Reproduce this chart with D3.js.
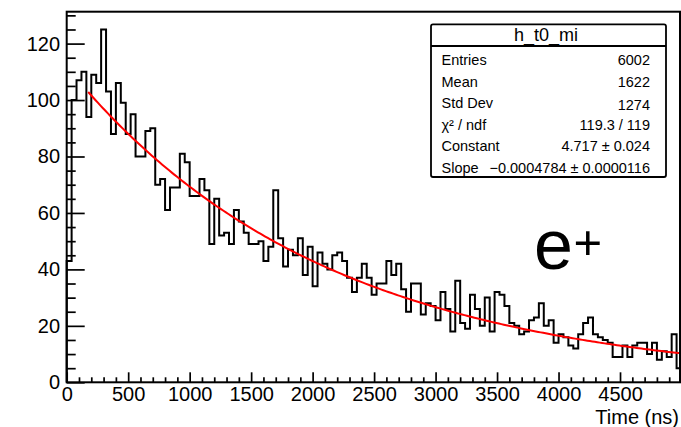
<!DOCTYPE html>
<html><head><meta charset="utf-8">
<script src="https://cdn.jsdelivr.net/npm/d3@7"></script>
<style>
body{margin:0;background:#fff}
svg{display:block}
text{font-family:"Liberation Sans",Arial,Helvetica,sans-serif}
</style>
</head><body>
<svg id="c" width="681" height="427"></svg>
<script>
// ---- data ----
const counts = [
 43,100,107,110, 94,109,106,125,103, 88,
106, 99, 88, 95, 80, 80, 89, 90, 70, 72,
 61, 69, 69, 81, 78, 66, 66, 72, 68, 49,
 65, 52, 53, 49, 61, 57, 53, 49, 49, 50,
 43, 48, 68, 51, 41, 47, 45, 51, 38, 48,
 34, 46, 42, 40, 45, 46, 43, 37, 32, 37,
 42, 37, 31, 35, 35, 43, 38, 42, 33, 25,
 35, 35, 24, 28, 27, 22, 32, 26, 18, 36,
 21, 19, 31, 26, 20, 30, 18, 32, 31, 27,
 21, 20, 17, 18, 22, 23, 28, 20, 22, 14,
 17, 16, 13, 12, 17, 21, 23, 17, 16, 15,
 14,  9,  9, 13,  9, 13, 14, 14, 10, 14,
  8, 11,  9, 17,  5
];
const histRange = [0, 5000];
const fitParams = [4.717, -0.0004784];   // Constant, Slope of expo fit
const fitRange = [175, 5000];
const xTicks = [0,500,1000,1500,2000,2500,3000,3500,4000,4500];
const yTicks = [0,20,40,60,80,100,120];
const statTitle = "h_t0_mi";
const statLabels = ["Entries","Mean","Std Dev","χ² / ndf","Constant","Slope"];
const statValues = ["6002","1622","1274","119.3 / 119","4.717 ± 0.024","−0.0004784 ± 0.0000116"];
const xTitle = "Time (ns)";

// ---- layout ----
const L = 66.7, R = 681.5, T = 11.7, B = 382.3;
const svg = d3.select("#c");
const x = d3.scaleLinear().domain(histRange).range([L, R]);
const y = d3.scaleLinear().domain([0, 131.3]).range([B, T]);

const nb = counts.length;
const bw = (histRange[1]-histRange[0]) / nb;

// minor ticks
const xMinor = d3.range(0, 5000, 100).filter(v => v % 500 !== 0);
const yMinor = d3.range(0, 131, 5).filter(v => v % 20 !== 0);

const gx = svg.append("g").attr("transform", `translate(0,${B})`);
gx.call(d3.axisBottom(x).tickValues(xTicks).tickSize(-10).tickPadding(5).tickFormat(d3.format("d")));
const gxm = svg.append("g").attr("transform", `translate(0,${B})`);
gxm.call(d3.axisBottom(x).tickValues(xMinor).tickSize(-5).tickFormat(""));

const gy = svg.append("g").attr("transform", `translate(${L},0)`);
gy.call(d3.axisLeft(y).tickValues(yTicks).tickSize(-18).tickPadding(6.7).tickFormat(d3.format("d")));
const gym = svg.append("g").attr("transform", `translate(${L},0)`);
gym.call(d3.axisLeft(y).tickValues(yMinor).tickSize(-9).tickFormat(""));

svg.selectAll(".domain").remove();
svg.selectAll(".tick line").attr("stroke", "#000").attr("stroke-width", 1.7);
svg.selectAll(".tick text").attr("font-size", 20).attr("fill", "#000")
   .attr("font-family", '"Liberation Sans",Arial,sans-serif');

// histogram outline
const p = d3.path();
p.moveTo(x(histRange[0]), y(0));
counts.forEach((c, i) => {
  const x0 = histRange[0] + i*bw, x1 = x0 + bw;
  p.lineTo(x(x0), y(c));
  p.lineTo(x(x1), y(c));
});
p.lineTo(x(histRange[1]), y(0));
svg.append("path").attr("d", p.toString()).attr("fill", "none")
   .attr("stroke", "#000").attr("stroke-width", 2).attr("stroke-linejoin", "miter");

// fit function
const fx = d3.range(fitRange[0], fitRange[1], 20).concat([fitRange[1]]);
const line = d3.line().x(d => x(d)).y(d => y(Math.exp(fitParams[0] + fitParams[1]*d)));
svg.append("path").attr("d", line(fx)).attr("fill", "none")
   .attr("stroke", "#ff0000").attr("stroke-width", 2);

// frame
svg.append("rect").attr("x", L).attr("y", T).attr("width", 680 - L).attr("height", B - T)
   .attr("fill", "none").attr("stroke", "#000").attr("stroke-width", 2);

// stats box
const bx0 = 431, bx1 = 666, by0 = 24.3, bsep = 46, by1 = 177;
svg.append("rect").attr("x", bx0).attr("y", by0).attr("width", bx1-bx0).attr("height", by1-by0)
   .attr("rx", 2).attr("fill", "#fff").attr("stroke", "#000").attr("stroke-width", 1.8);
svg.append("line").attr("x1", bx0).attr("x2", bx1).attr("y1", bsep).attr("y2", bsep)
   .attr("stroke", "#000").attr("stroke-width", 1.8);
svg.append("text").attr("x", 546).attr("y", 41).attr("text-anchor", "middle")
   .attr("font-size", 18).text(statTitle);
statLabels.forEach((t, i) => {
  const yy = 65 + i*21.6;
  svg.append("text").attr("x", 441.5).attr("y", yy).attr("font-size", 14.5).text(t);
  svg.append("text").attr("x", 650).attr("y", yy + (i===2?2:0)).attr("text-anchor", "end")
     .attr("font-size", 14.5).text(statValues[i]);
});

// axis title
svg.append("text").attr("x", 679).attr("y", 424).attr("text-anchor", "end")
   .attr("font-size", 20).text(xTitle);

// e+ label (single text with superscript tspan)
const eText = svg.append("text").attr("x", 534).attr("y", 269).attr("font-size", 70);
eText.append("tspan").text("e");
eText.append("tspan").attr("font-size", 49).attr("dx", 0.5).attr("dy", -10).text("+");
</script>
</body></html>
